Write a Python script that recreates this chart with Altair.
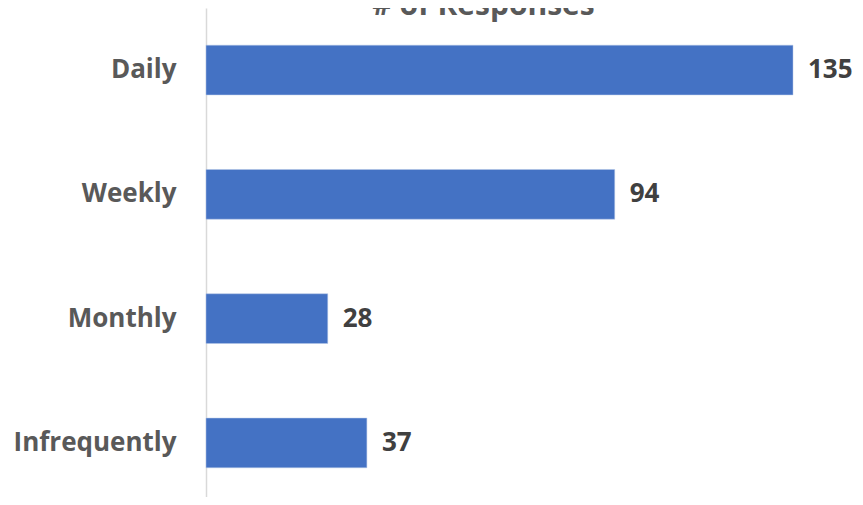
import altair as alt
import pandas as pd

categories = ["Daily", "Weekly", "Monthly", "Infrequently"]
responses = [135, 94, 28, 37]

df = pd.DataFrame({"Frequency": categories, "Responses": responses})

FONT = "Open Sans"

base = alt.Chart(df).encode(
    y=alt.Y(
        "Frequency:N",
        sort=categories,
        scale=alt.Scale(paddingInner=0.6, paddingOuter=0.267, align=0.56),
        axis=alt.Axis(
            title=None,
            ticks=False,
            domainColor="#d9d9d9",
            domainWidth=1.5,
            labelFont=FONT,
            labelFontSize=26,
            labelFontWeight="bold",
            labelColor="#595959",
            labelPadding=30,
        ),
    ),
    x=alt.X(
        "Responses:Q",
        scale=alt.Scale(domain=[0, 135], nice=False),
        axis=None,
    ),
)

bars = base.mark_bar(color="#4472C4", stroke="#b4c7e7", strokeWidth=0.5)

labels = base.mark_text(
    align="left",
    baseline="middle",
    dx=15,
    font=FONT,
    fontSize=26,
    fontWeight="bold",
    color="#404040",
).encode(text="Responses:Q")

chart = (
    (bars + labels)
    .properties(
        width=587,
        height=489,
        autosize=alt.AutoSizeParams(type="none"),
        padding={"left": 198, "top": 0, "right": 62, "bottom": 0},
        title=alt.TitleParams(
            "# of Responses",
            font=FONT,
            fontSize=30,
            fontWeight="bold",
            color="#595959",
            anchor="middle",
            baseline="alphabetic",
            offset=-37,
            dx=-16,
        ),
    )
    .configure_view(stroke=None)
)

chart.save("out.html", embed_options={"renderer": "svg", "actions": False})
